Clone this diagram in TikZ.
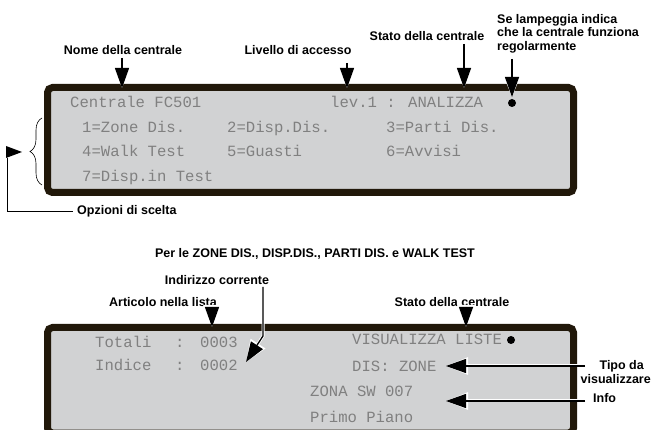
\documentclass[tikz,border=0pt]{standalone}
\usepackage{fontspec}
\setmainfont{Liberation Sans}
\newfontfamily\lcdfont{Liberation Mono}
\usetikzlibrary{arrows.meta,decorations.pathreplacing,calc}
\definecolor{bordercol}{RGB}{33,24,10}
\definecolor{lcdfill}{RGB}{209,210,211}
\definecolor{lcdtext}{RGB}{128,128,128}
\tikzset{
  lbl/.style={font=\fontsize{12.5}{13.5}\selectfont\bfseries, inner sep=0pt, text=black},
  lcd/.style={font=\fontsize{15.6}{18}\selectfont\lcdfont, inner sep=0pt, text=lcdtext, anchor=base west},
  panel/.style={draw=bordercol, line width=7pt, fill=lcdfill, rounded corners=5pt},
  ptr/.style={preaction={draw=white, line width=3pt, -{Triangle[width=17pt,length=22pt]}},
              draw=black, line width=1.3pt, -{Triangle[width=14pt,length=20pt]}},
  dot/.style={circle, fill=black, inner sep=0pt, minimum size=8pt},
}
\begin{document}
\begin{tikzpicture}[x=1pt,y=-1pt]
\useasboundingbox (0,0) rectangle (651,430);
% panels
\draw[panel] (47.5,87.5) rectangle (573.5,192.5);
\draw[panel] (47.5,327.5) rectangle (573.5,433);
% top LCD text
\node[lcd] (t1) at (70,108) {Centrale FC501};
\node[lcd] (t2) at (330,108) {lev.1 : ANALIZZA};
\node[dot] (d1) at (512,103) {};
\node[lcd] (o1) at (82,133) {1=Zone Dis.};
\node[lcd] (o2) at (227,133) {2=Disp.Dis.};
\node[lcd] (o3) at (386,133) {3=Parti Dis.};
\node[lcd] (o4) at (82,157) {4=Walk Test};
\node[lcd] (o5) at (227,157) {5=Guasti};
\node[lcd] (o6) at (386,157) {6=Avvisi};
\node[lcd] (o7) at (82,182) {7=Disp.in Test};
% top labels
\node[lbl] (nome) at (123,50) {Nome della centrale};
\node[lbl] (liv) at (298,50) {Livello di accesso};
\node[lbl] (stato) at (427,36) {Stato della centrale};
\node[lbl, anchor=west, align=left] (lamp) at (497,33.5) {Se lampeggia indica\\che la centrale funziona\\regolarmente};
\coordinate (nomeS) at (122,58);
\coordinate (nomeT) at (122,88);
\coordinate (livS) at (347,63);
\coordinate (livT) at (347,88);
\coordinate (statoS) at (464,44);
\coordinate (statoT) at (464,88);
\coordinate (lampS) at (512,59);
\coordinate (lampT) at (512,97);
\draw[ptr] (nomeS) -- (nomeT);
\draw[ptr] (livS) -- (livT);
\draw[ptr] (statoS) -- (statoT);
\draw[ptr] (lampS) -- (lampT);
% brace and options
\draw[line width=0.6pt, decorate, decoration={brace, amplitude=12pt}] (42,185) -- (42,118);
\fill[black] (6,146) -- (22,152) -- (6,158) -- cycle;
\coordinate (tri) at (7,158);
\node[lbl, anchor=west] (opz) at (77,211) {Opzioni di scelta};
\draw[line width=0.9pt] (tri) |- ([xshift=-4pt]opz.west);
% bottom section
\node[lbl] (per) at (315,254) {Per le ZONE DIS., DISP.DIS., PARTI DIS. e WALK TEST};
\node[lbl] (ind) at (217,280) {Indirizzo corrente};
\node[lbl] (art) at (163,302) {Articolo nella lista};
\node[lbl] (stato2) at (452,302) {Stato della centrale};
\node[lcd] (b1) at (95,348) {Totali};
\node[lcd] (b2) at (175,348) {:};
\node[lcd] (b3) at (200,348) {0003};
\node[lcd] (b4) at (95,371) {Indice};
\node[lcd] (b5) at (175,371) {:};
\node[lcd] (b6) at (200,371) {0002};
\node[lcd] (b7) at (352,345) {VISUALIZZA LISTE};
\node[dot] (d2) at (511,340) {};
\node[lcd] (b8) at (352,372) {DIS: ZONE};
\node[lcd] (b9) at (310,397) {ZONA SW 007};
\node[lcd] (b10) at (310,423) {Primo Piano};
\coordinate (artS) at (212,307);
\coordinate (artT) at (212,327);
\coordinate (st2S) at (466,307);
\coordinate (st2T) at (466,327);
\draw[ptr] (artS) -- (artT);
\draw[ptr] (st2S) -- (st2T);
\coordinate (indS) at (263,287);
\coordinate (indB) at (263,336);
\coordinate (indT) at (246,362);
\draw[ptr] (indS) -- (indB) -- (indT);
\node[lbl, anchor=east] (tipo1) at (644,366) {Tipo da};
\node[lbl, anchor=east] (tipo2) at (651,379) {visualizzare};
\node[lbl, anchor=west] (info) at (593,398) {Info};
\coordinate (tipoS) at (585,366);
\coordinate (tipoT) at (446,366);
\coordinate (infoS) at (585,401);
\coordinate (infoT) at (446,401);
\draw[ptr] (tipoS) -- (tipoT);
\draw[ptr] (infoS) -- (infoT);
\end{tikzpicture}
\end{document}
